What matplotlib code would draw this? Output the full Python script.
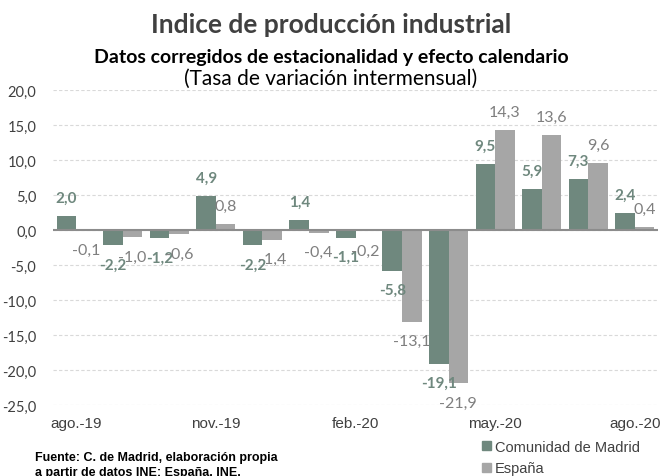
import numpy as np
import matplotlib
matplotlib.use("Agg")
import matplotlib.pyplot as plt
from matplotlib.patches import Patch

# Data (tasa de variación intermensual, %)
months = ["ago.-19", "sep.-19", "oct.-19", "nov.-19", "dic.-19", "ene.-20", "feb.-20",
          "mar.-20", "abr.-20", "may.-20", "jun.-20", "jul.-20", "ago.-20"]
madrid = [2.0, -2.2, -1.2, 4.9, -2.2, 1.4, -1.1, -5.8, -19.1, 9.5, 5.9, 7.3, 2.4]
espana = [-0.1, -1.0, -0.6, 0.8, -1.4, -0.4, -0.2, -13.1, -21.9, 14.3, 13.6, 9.6, 0.4]
series_names = ["Comunidad de Madrid", "España"]

C_MAD = "#6f887e"
C_ESP = "#a6a6a6"
NUM_FONT = ["Lato", "DejaVu Sans"]
ARIAL = ["Liberation Sans", "DejaVu Sans"]


def fmt(v):
    return f"{v:.1f}".replace(".", ",")


fig = plt.figure(figsize=(6.62, 4.77), dpi=100)
ax = fig.add_axes([53 / 662, 1 - 406 / 477, 605 / 662, 315 / 477])

x = np.arange(len(months))
w = 0.42
ax.bar(x - w / 2, madrid, w, color=C_MAD, zorder=2)
ax.bar(x + w / 2, espana, w, color=C_ESP, zorder=2)

for xi, v in zip(x - w / 2, madrid):
    ax.annotate(fmt(v), (xi, v), xytext=(0, 8 if v >= 0 else -9), textcoords="offset points",
                ha="center", va="bottom" if v >= 0 else "top", fontsize=11,
                fontweight="bold", color=C_MAD, family=NUM_FONT, zorder=3)
for xi, v in zip(x + w / 2, espana):
    ax.annotate(fmt(v), (xi, v), xytext=(0, 8 if v >= 0 else -9), textcoords="offset points",
                ha="center", va="bottom" if v >= 0 else "top", fontsize=11.5,
                color="#7f7f7f", family=NUM_FONT, zorder=3)

ax.set_xlim(-0.5, len(months) - 0.5)
ax.set_ylim(-25, 20)
ax.set_yticks(np.arange(-25, 21, 5))
ax.set_yticklabels([fmt(t) for t in np.arange(-25, 21, 5)], family=NUM_FONT,
                   fontsize=10.5, color="#404040")
ax.set_xticks(x[::3])
ax.set_xticklabels(months[::3], family=ARIAL, fontsize=11, color="#404040")
ax.tick_params(axis="both", length=0)
ax.tick_params(axis="x", pad=8)
ax.tick_params(axis="y", pad=12)
ax.yaxis.grid(True, linestyle=(0, (3, 2)), color="#d9d9d9", linewidth=0.8, zorder=0)
ax.axhline(0, color="#8c8c8c", linewidth=1.5, zorder=2.5)
for s in ax.spines.values():
    s.set_visible(False)

fig.text(0.5, 1 - 25 / 477, "Indice de producción industrial", ha="center", va="center",
         fontsize=19, fontweight="bold", color="#404040", family=NUM_FONT)
fig.text(0.5, 1 - 57 / 477, "Datos corregidos de estacionalidad y efecto calendario",
         ha="center", va="center", fontsize=14, fontweight="bold", color="black", family=NUM_FONT)
fig.text(0.5, 1 - 79 / 477, "(Tasa de variación intermensual)", ha="center", va="center",
         fontsize=15, color="black", family=NUM_FONT)

fig.text(35 / 662, 1 - 458 / 477, "Fuente: C. de Madrid, elaboración propia",
         ha="left", va="center", fontsize=9, fontweight="bold", color="black", family=ARIAL)
fig.text(35 / 662, 1 - 473 / 477, "a partir de datos INE; España, INE.",
         ha="left", va="center", fontsize=9, fontweight="bold", color="black", family=ARIAL)

handles = [Patch(color=C_MAD), Patch(color=C_ESP)]
fig.legend(handles, series_names, loc="upper left", bbox_to_anchor=(482 / 662, 1 - 441 / 477),
           frameon=False, handlelength=0.6, handleheight=0.6, handletextpad=0.3,
           labelspacing=0.5, borderpad=0, borderaxespad=0,
           prop={"family": ARIAL, "size": 10.5}, labelcolor="#404040")

fig.savefig("out.png", dpi=100)
